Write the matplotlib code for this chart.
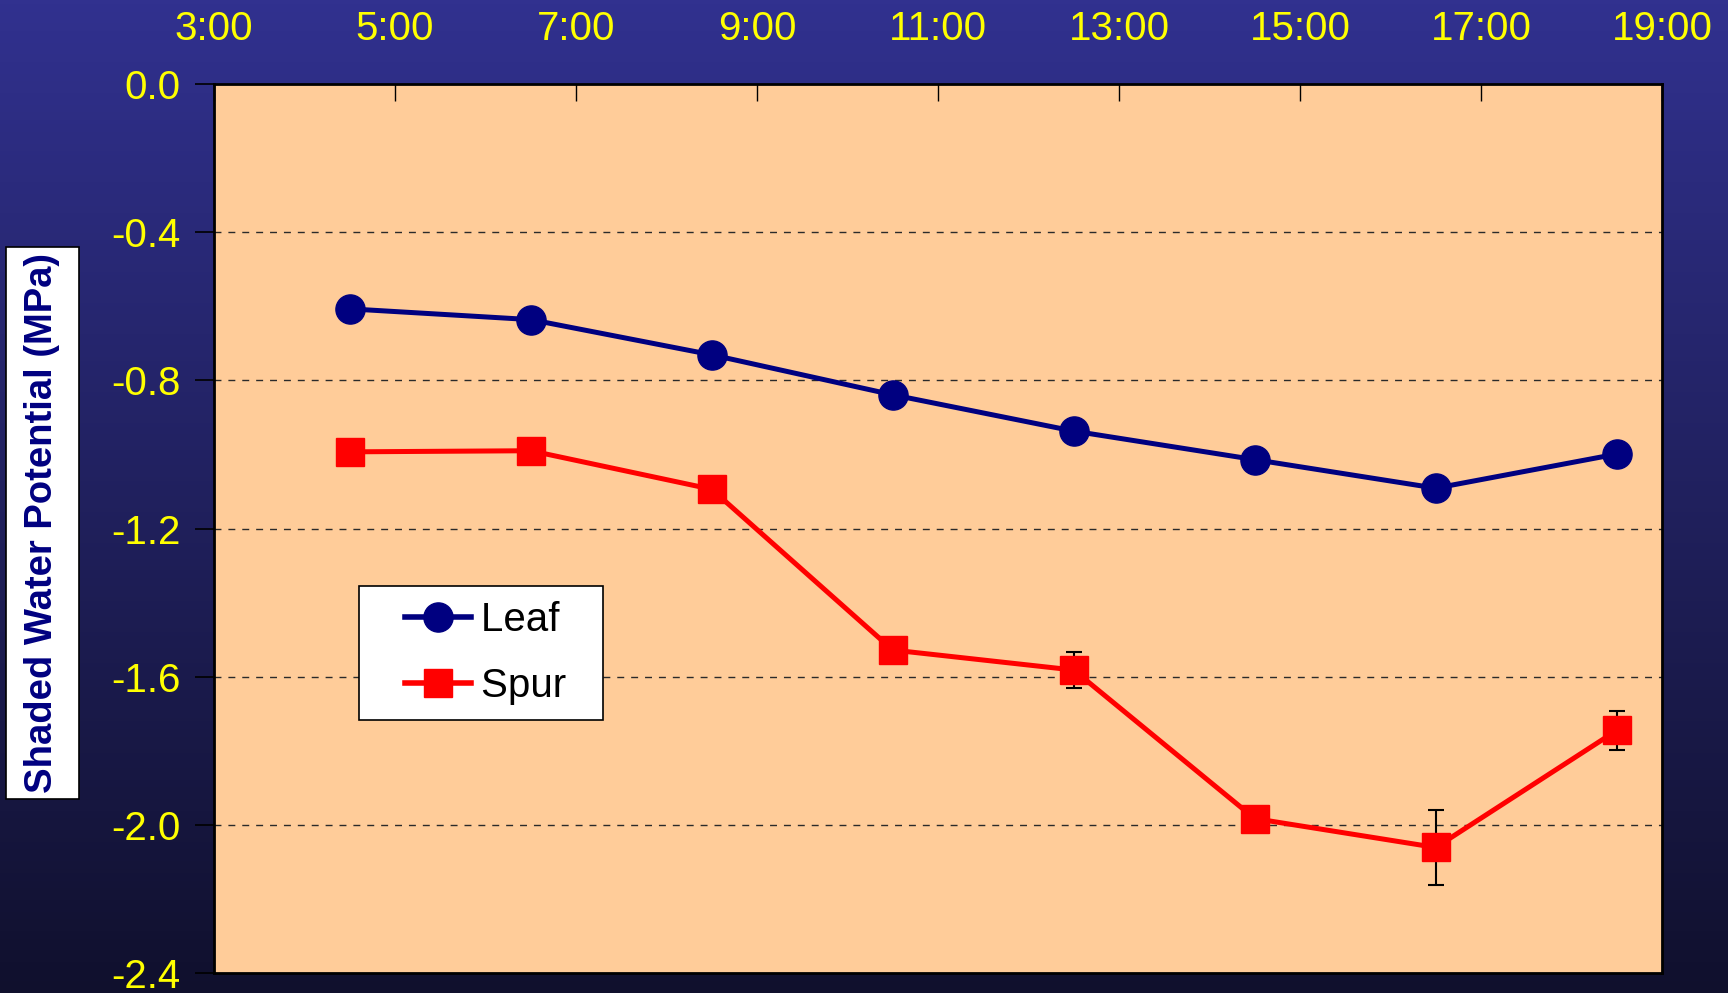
import matplotlib
matplotlib.use("Agg")
import matplotlib.pyplot as plt
from matplotlib.lines import Line2D
from matplotlib.legend_handler import HandlerLine2D
from matplotlib.patches import Rectangle
import numpy as np

plt.rcParams['font.family'] = ['Liberation Sans', 'DejaVu Sans']

hours = [4.5, 6.5, 8.5, 10.5, 12.5, 14.5, 16.5, 18.5]
leaf = [-0.607, -0.636, -0.731, -0.839, -0.937, -1.014, -1.091, -0.999]
leaf_err = [0.0, 0.0, 0.0, 0.0, 0.0, 0.005, 0.01, 0.02]
spur = [-0.993, -0.990, -1.094, -1.528, -1.582, -1.983, -2.061, -1.745]
spur_err = [0.0, 0.0, 0.0, 0.0, 0.049, 0.01, 0.10, 0.052]
xticks = [3, 5, 7, 9, 11, 13, 15, 17, 19]
xticklabels = ["3:00", "5:00", "7:00", "9:00", "11:00", "13:00", "15:00", "17:00", "19:00"]
yticks = [0.0, -0.4, -0.8, -1.2, -1.6, -2.0, -2.4]
ylabel = "Shaded Water Potential (MPa)"

fig = plt.figure(figsize=(17.28, 9.93), dpi=100)

# gradient background
bg = fig.add_axes([0, 0, 1, 1], zorder=-10)
top = np.array([49, 49, 143]) / 255
bot = np.array([16, 16, 45]) / 255
t = np.linspace(0, 1, 256)[:, None]
grad = top[None, :] * (1 - t) + bot[None, :] * t
grad = np.repeat(grad[:, None, :], 2, axis=1)
bg.imshow(grad, aspect='auto', extent=[0, 1, 0, 1], origin='upper')
bg.axis('off')

ax = fig.add_axes([0.1238, 0.0201, 0.8380, 0.8953])
ax.set_facecolor('#FFCC99')

ax.errorbar(hours, leaf, yerr=leaf_err, color='#000080', marker='o', markersize=21,
            linewidth=3.6, ecolor='black', elinewidth=1.5, capsize=6, capthick=1.5,
            zorder=3)
ax.errorbar(hours, spur, yerr=spur_err, color='#FF0000', marker='s', markersize=20,
            linewidth=3.6, ecolor='black', elinewidth=1.5, capsize=6, capthick=1.5,
            zorder=3)

ax.set_xlim(3, 19)
ax.set_ylim(-2.4, 0.0)
ax.set_yticks(yticks)
ax.set_yticklabels([f"{v:.1f}" for v in yticks])
ax.xaxis.tick_top()
ax.set_xticks(xticks)
ax.set_xticklabels(xticklabels)
ax.tick_params(axis='x', direction='in', length=12, width=1, colors='black',
               labelcolor='#FFFF00', labelsize=29, pad=26)
ax.tick_params(axis='y', direction='out', length=14, width=1.2, colors='black',
               labelcolor='#FFFF00', labelsize=29, pad=10)

for v in yticks[1:-1]:
    ax.axhline(v, color='#2a2a2a', linestyle=(0, (5, 5)), linewidth=1, zorder=1)

for s in ax.spines.values():
    s.set_color('black')
    s.set_linewidth(2)


class ShiftHandler(HandlerLine2D):
    def __init__(self, shift, **kw):
        super().__init__(**kw)
        self.shift = shift

    def create_artists(self, legend, orig_handle, xdescent, ydescent, width, height,
                       fontsize, trans):
        s = self.shift * fontsize
        return super().create_artists(legend, orig_handle, xdescent - s, ydescent,
                                      width - s, height, fontsize, trans)


handles = [
    Line2D([], [], color='#000080', marker='o', markersize=21, linewidth=4, label='Leaf  '),
    Line2D([], [], color='#FF0000', marker='s', markersize=20, linewidth=4, label='Spur  '),
]
leg = ax.legend(handles=handles, loc='upper left', bbox_to_anchor=(0.1, 0.435),
                borderaxespad=0, fontsize=29, frameon=True, fancybox=False,
                edgecolor='black', framealpha=1, handlelength=2.43, borderpad=0.36,
                labelspacing=0.7, handletextpad=0.25,
                handler_map={h: ShiftHandler(0.8) for h in handles})
leg.get_frame().set_linewidth(1.2)

fig.add_artist(Rectangle((0.0032, 0.1954), 0.0425, 0.5559, transform=fig.transFigure,
                         facecolor='white', edgecolor='black', linewidth=1.2, zorder=2))
fig.text(0.0243, 0.4733, ylabel, rotation=90, ha='center', va='center',
         fontsize=27.5, fontweight='bold', color='#000080', zorder=3)

fig.savefig('out.png', dpi=100)
